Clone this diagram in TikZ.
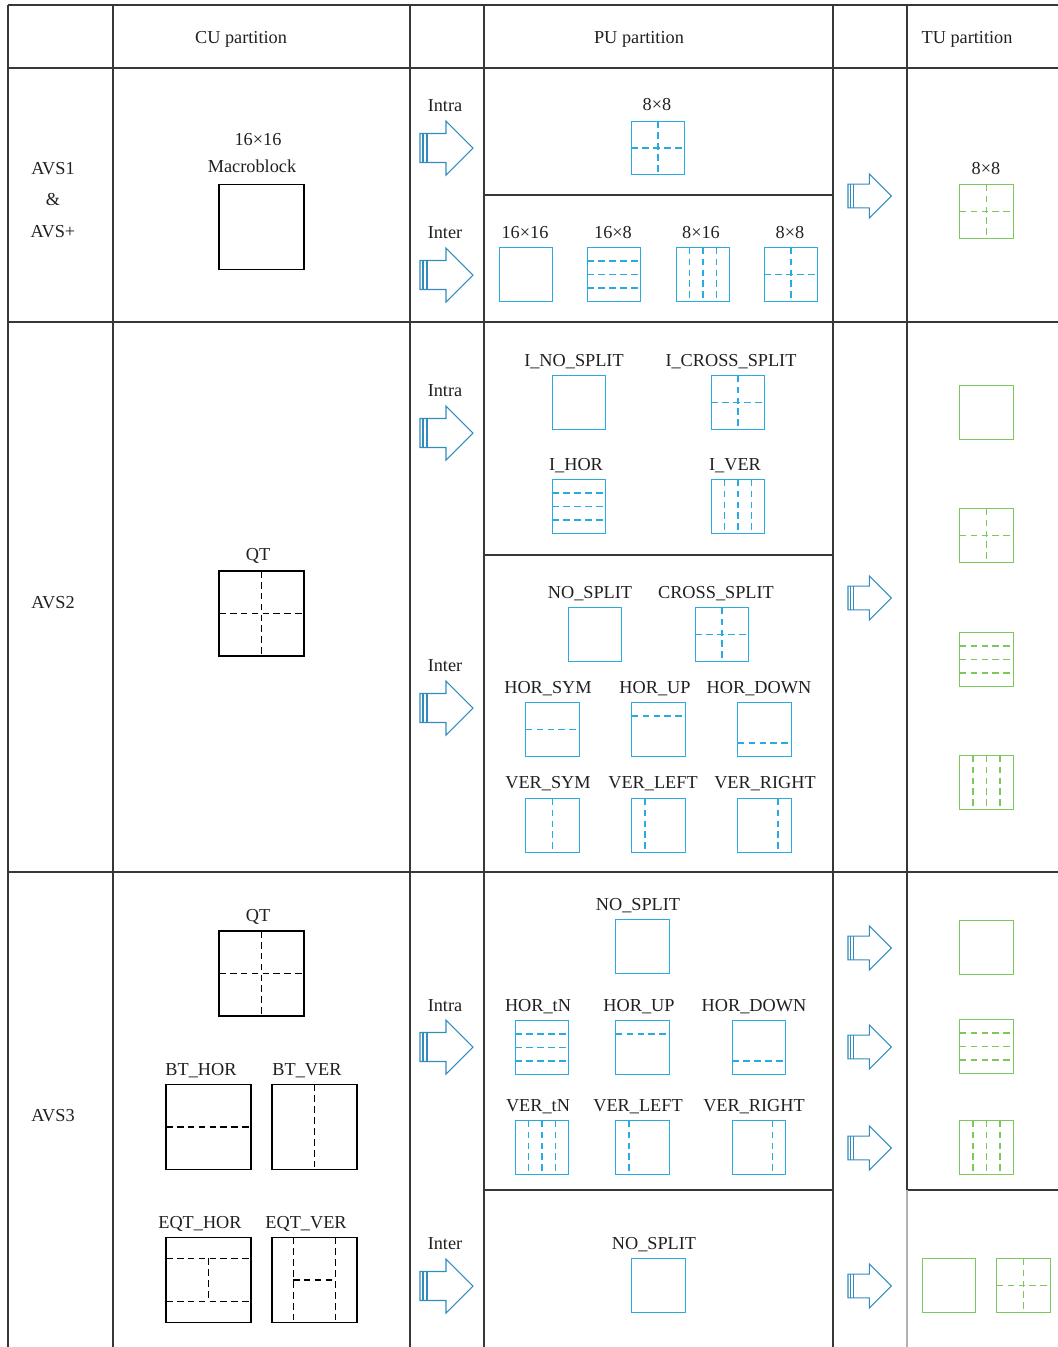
\documentclass[tikz,border=0pt]{standalone}
\usepackage{fontspec}
\setmainfont{Liberation Serif}
\usetikzlibrary{positioning,calc}

\definecolor{rulecol}{RGB}{55,55,55}
\definecolor{pucol}{RGB}{41,171,226}
\definecolor{tucol}{RGB}{125,200,90}
\definecolor{arrcol}{RGB}{50,140,190}
\definecolor{txtcol}{RGB}{35,31,32}

\tikzset{
  bigarrow/.pic={
    \draw[arrcol, line width=0.6pt, line join=miter]
      (0,-14.5) -- (26,-14.5) -- (26,-27) -- (53,0) -- (26,27) -- (26,14.5) -- (0,14.5) -- cycle;
    \draw[arrcol, line width=0.6pt] (3,-14.5) -- (3,14.5) (7,-14.5) -- (7,14.5);
  }
}

\begin{document}
\begin{tikzpicture}[
    x=0.02cm, y=-0.02cm,
    rule/.style={draw=rulecol, line width=1pt},
    lbl/.style={anchor=base, text=txtcol, inner sep=0pt,
                font=\fontsize{10.4}{12}\selectfont},
    cubox/.style={draw, color=black, line width=0.8pt, minimum size=1.7cm,
                  inner sep=0pt},
    pubox/.style={cubox, color=pucol, minimum size=1.07cm},
    tubox/.style={cubox, color=tucol, minimum size=1.07cm},
    cut/.style={dash pattern=on 3.8pt off 2.4pt, line width=0.8pt},
    cross/.style={path picture={
        \draw[cut] (path picture bounding box.north) -- (path picture bounding box.south)
                   (path picture bounding box.west) -- (path picture bounding box.east);}},
    hcut/.style={path picture={\foreach \f in {#1}
        \draw[cut] ($(path picture bounding box.north west)!\f!(path picture bounding box.south west)$)
                -- ($(path picture bounding box.north east)!\f!(path picture bounding box.south east)$);}},
    vcut/.style={path picture={\foreach \f in {#1}
        \draw[cut] ($(path picture bounding box.north west)!\f!(path picture bounding box.north east)$)
                -- ($(path picture bounding box.south west)!\f!(path picture bounding box.south east)$);}},
]
\useasboundingbox (0,0) rectangle (1058,1347);

% --- table rules ---
\draw[rule] (8,5) -- (1058,5);
\draw[rule] (8,68) -- (1058,68);
\draw[rule] (8,322) -- (1058,322);
\draw[rule] (8,872) -- (1058,872);
\draw[rule] (484,195) -- (833,195);
\draw[rule] (484,555) -- (833,555);
\draw[rule] (484,1190) -- (833,1190);
\draw[rule] (907,1190) -- (1058,1190);
\foreach \x in {8,113,410,484,833}
  \draw[rule] (\x,5) -- (\x,1347);
\draw[rule] (907,5) -- (907,1190);
\draw[rule, draw=gray!60] (907,1190) -- (907,1347);

% --- header ---
\node[lbl] (hcu) at (241,43) {CU partition};
\node[lbl] (hpu) at (639,43) {PU partition};
\node[lbl] (htu) at (967,43) {TU partition};

% --- AVS1 & AVS+ ---
\node[lbl] (avsa) at (53,174) {AVS1};
\node[lbl] (avsb) at (53,205) {\&};
\node[lbl] (avsc) at (53,237) {AVS+};

\node[cubox] (mb) at (261.5,227) {};
\node[lbl] (mbsize) at (258,145) {16×16};
\node[lbl] (mbname) at (252,172) {Macroblock};

\node[lbl] (intraa) at (445,111) {Intra};
\node[lbl] (intera) at (445,238) {Inter};
\pic at (420,148) {bigarrow};
\pic at (420,275) {bigarrow};

\node[pubox, cross] (pa) at (658,148) {};
\node[lbl] (pal) at (657,110) {8×8};
\node[pubox] (pb) at (526,274.5) {};
\node[lbl] (pbl) at (525,238) {16×16};
\node[pubox, hcut={.25,.5,.75}] (pc) at (614,274.5) {};
\node[lbl] (pcl) at (613,238) {16×8};
\node[pubox, vcut={.25,.5,.75}] (pd) at (703,274.5) {};
\node[lbl] (pdl) at (701,238) {8×16};
\node[pubox, cross] (pe) at (791,274.5) {};
\node[lbl] (pel) at (790,238) {8×8};

\pic[scale=0.82] at (848,196) {bigarrow};
\node[tubox, cross] (ta) at (986.5,211.5) {};
\node[lbl] (tal) at (986,174) {8×8};

% --- AVS2 ---
\node[lbl] (avs2) at (53,608) {AVS2};

\node[cubox, cross] (qt2) at (261.5,613.5) {};
\node[lbl] (qt2l) at (258,560) {QT};

\node[lbl] (intrab) at (445,396) {Intra};
\node[lbl] (interb) at (445,671) {Inter};
\pic at (420,433) {bigarrow};
\pic at (420,708) {bigarrow};

\node[pubox] (ia) at (579,402.5) {};
\node[lbl] (ial) at (574,366) {I\_NO\_SPLIT};
\node[pubox, cross] (ib) at (738,402.5) {};
\node[lbl] (ibl) at (731,366) {I\_CROSS\_SPLIT};
\node[pubox, hcut={.25,.5,.75}] (ic) at (579,506.5) {};
\node[lbl] (icl) at (576,470) {I\_HOR};
\node[pubox, vcut={.25,.5,.75}] (id) at (738,506.5) {};
\node[lbl] (idl) at (735,470) {I\_VER};

\node[pubox] (na) at (595,634.5) {};
\node[lbl] (nal) at (590,598) {NO\_SPLIT};
\node[pubox, cross] (nb) at (722,634.5) {};
\node[lbl] (nbl) at (716,598) {CROSS\_SPLIT};
\node[pubox, hcut=.5] (nc) at (552.5,729.5) {};
\node[lbl] (ncl) at (548,693) {HOR\_SYM};
\node[pubox, hcut=.25] (nd) at (658.5,729.5) {};
\node[lbl] (ndl) at (655,693) {HOR\_UP};
\node[pubox, hcut=.75] (ne) at (764.5,729.5) {};
\node[lbl] (nel) at (759,693) {HOR\_DOWN};
\node[pubox, vcut=.5] (nf) at (552.5,825.5) {};
\node[lbl] (nfl) at (548,788) {VER\_SYM};
\node[pubox, vcut=.25] (ng) at (658.5,825.5) {};
\node[lbl] (ngl) at (653,788) {VER\_LEFT};
\node[pubox, vcut=.75] (nh) at (764.5,825.5) {};
\node[lbl] (nhl) at (765,788) {VER\_RIGHT};

\pic[scale=0.82] at (848,598) {bigarrow};
\node[tubox] (tb) at (986.5,412.5) {};
\node[tubox, cross] (tc) at (986.5,535.5) {};
\node[tubox, hcut={.25,.5,.75}] (td) at (986.5,659.5) {};
\node[tubox, vcut={.25,.5,.75}] (te) at (986.5,782.5) {};

% --- AVS3 ---
\node[lbl] (avs3) at (53,1121) {AVS3};

\node[cubox, cross] (qt3) at (261.5,973.5) {};
\node[lbl] (qt3l) at (258,921) {QT};
\node[cubox, hcut=.5] (bth) at (208.5,1127) {};
\node[lbl] (bthl) at (201,1075) {BT\_HOR};
\node[cubox, vcut=.5] (btv) at (314.5,1127) {};
\node[lbl] (btvl) at (307,1075) {BT\_VER};
\node[cubox, hcut={.25,.75}] (eqh) at (208.5,1280) {};
\draw[cut] ($(eqh.north)!.25!(eqh.south)$) -- ($(eqh.north)!.75!(eqh.south)$);
\node[lbl] (eqhl) at (200,1228) {EQT\_HOR};
\node[cubox, vcut={.25,.75}] (eqv) at (314.5,1280) {};
\draw[cut] ($(eqv.west)!.25!(eqv.east)$) -- ($(eqv.west)!.75!(eqv.east)$);
\node[lbl] (eqvl) at (306,1228) {EQT\_VER};

\node[lbl] (intrac) at (445,1011) {Intra};
\node[lbl] (interc) at (445,1249) {Inter};
\pic at (420,1047) {bigarrow};
\pic at (420,1286) {bigarrow};

\node[pubox] (ra) at (642.5,946.5) {};
\node[lbl] (ral) at (638,910) {NO\_SPLIT};
\node[pubox, hcut={.25,.5,.75}] (rb) at (542,1047.5) {};
\node[lbl] (rbl) at (538,1011) {HOR\_tN};
\node[pubox, hcut=.25] (rc) at (642.5,1047.5) {};
\node[lbl] (rcl) at (639,1011) {HOR\_UP};
\node[pubox, hcut=.75] (rd) at (759,1047.5) {};
\node[lbl] (rdl) at (754,1011) {HOR\_DOWN};
\node[pubox, vcut={.25,.5,.75}] (re) at (542,1147.5) {};
\node[lbl] (rel) at (538,1111) {VER\_tN};
\node[pubox, vcut=.25] (rf) at (642.5,1147.5) {};
\node[lbl] (rfl) at (638,1111) {VER\_LEFT};
\node[pubox, vcut=.75] (rg) at (759,1147.5) {};
\node[lbl] (rgl) at (754,1111) {VER\_RIGHT};

\node[pubox] (rh) at (658.5,1285.5) {};
\node[lbl] (rhl) at (654,1249) {NO\_SPLIT};

\pic[scale=0.82] at (848,948) {bigarrow};
\pic[scale=0.82] at (848,1047) {bigarrow};
\pic[scale=0.82] at (848,1148) {bigarrow};
\pic[scale=0.82] at (848,1286) {bigarrow};
\node[tubox] (tf) at (986.5,947.5) {};
\node[tubox, hcut={.25,.5,.75}] (tg) at (986.5,1046.5) {};
\node[tubox, vcut={.25,.5,.75}] (th) at (986.5,1147.5) {};
\node[tubox] (ti) at (949,1285.5) {};
\node[tubox, cross] (tj) at (1023.5,1285.5) {};

\end{tikzpicture}
\end{document}
